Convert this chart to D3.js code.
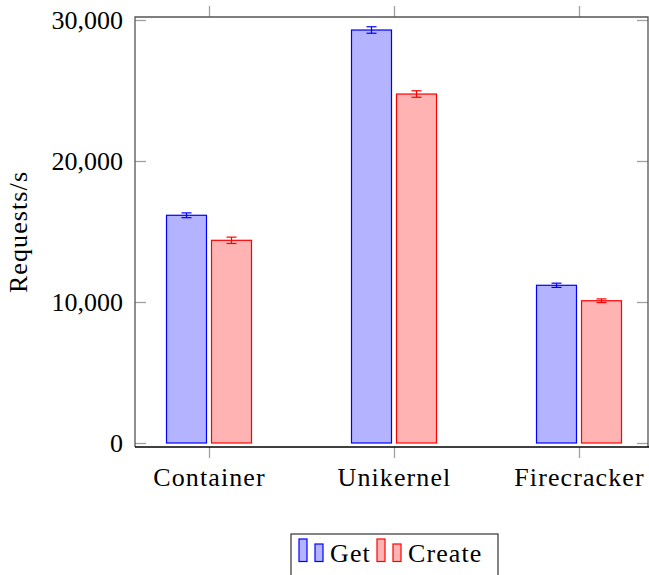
<!DOCTYPE html>
<html>
<head>
<meta charset="utf-8">
<script src="https://cdn.jsdelivr.net/npm/d3@7"></script>
<style>
  body { margin: 0; background: #fff; }
  svg { display: block; font-family: "Liberation Serif", "DejaVu Serif", serif; }
</style>
</head>
<body>
<div id="chart"></div>
<script>

// data
var categories = ["Container", "Unikernel", "Firecracker"];
var seriesNames = ["Get", "Create"];
var getValues = [16150, 29290, 11185];
var getErrors = [170, 230, 150];
var createValues = [14375, 24750, 10090];
var createErrors = [225, 230, 130];
var yTicks = [0, 10000, 20000, 30000];

var strokes = ["#0000ff", "#ff0000"];
var fills = ["#b3b3ff", "#ffb3b3"];

var width = 649, height = 575;
var fontSize = 26;
var serif = '"Liberation Serif", "DejaVu Serif", serif';
var wordSpacing = "1.1px"; // times is narrower than computer modern

var svg = d3.select("#chart").append("svg")
            .attr("width", width)
            .attr("height", height);

// plot box (note: "top" is taken by window.top)
var boxLeft = 135, boxRight = 648, boxTop = 17, boxBottom = 447;

var x = d3.scalePoint().domain(categories).range([209, 579]);
var y = d3.scaleLinear().domain([0, 30000]).range([443, 20]);

var barWidth = 40, barGap = 5;
var offsets = [-(barWidth + barGap) / 2, (barWidth + barGap) / 2];

var series = [
  {name: seriesNames[0], values: getValues, errors: getErrors},
  {name: seriesNames[1], values: createValues, errors: createErrors}
];

function styleTicks(g) {
  g.attr("font-family", serif).attr("font-size", fontSize);
  g.select(".domain").remove();
  g.selectAll(".tick line").attr("stroke", "#a0a0a0").attr("stroke-width", 1.3);
  g.selectAll(".tick text").attr("fill", "#000");
}

// y ticks (inside, mirrored on right)
var yAxisL = d3.axisLeft(y).tickValues(yTicks).tickFormat(d3.format(",")).tickSize(-11).tickPadding(12);
svg.append("g").attr("transform", "translate(" + boxLeft + ",0)").call(yAxisL).call(styleTicks);

var yAxisR = d3.axisRight(y).tickValues(yTicks).tickFormat("").tickSize(-11);
svg.append("g").attr("transform", "translate(" + boxRight + ",0)").call(yAxisR).call(styleTicks);

// x ticks (outside, top and bottom)
var xAxisB = d3.axisBottom(x).tickSize(11);
var gx = svg.append("g").attr("transform", "translate(0," + boxBottom + ")").call(xAxisB).call(styleTicks);
gx.selectAll(".tick text").attr("y", 39).attr("dy", 0).style("letter-spacing", wordSpacing);

var xAxisT = d3.axisTop(x).tickSize(11).tickFormat("");
svg.append("g").attr("transform", "translate(0," + boxTop + ")").call(xAxisT).call(styleTicks);

// bars
var groups = svg.selectAll(".series")
  .data(series)
  .enter()
  .append("g")
  .attr("class", "series");

groups.selectAll("rect")
  .data(function(s, si) {
    return s.values.map(function(v, i) { return {cat: categories[i], v: v, si: si}; });
  })
  .enter()
  .append("rect")
  .attr("x", function(d) { return x(d.cat) + offsets[d.si] - barWidth / 2; })
  .attr("y", function(d) { return y(d.v); })
  .attr("width", barWidth)
  .attr("height", function(d) { return y(0) - y(d.v); })
  .attr("fill", function(d) { return fills[d.si]; })
  .attr("stroke", function(d) { return strokes[d.si]; })
  .attr("stroke-width", 1.2);

// error bars
var errs = groups.selectAll(".err")
  .data(function(s, si) {
    return s.values.map(function(v, i) { return {cat: categories[i], v: v, e: s.errors[i], si: si}; });
  })
  .enter()
  .append("g")
  .attr("class", "err")
  .attr("stroke", function(d) { return strokes[d.si]; })
  .attr("stroke-width", 1.2);

errs.append("line")
  .attr("x1", function(d) { return x(d.cat) + offsets[d.si]; })
  .attr("x2", function(d) { return x(d.cat) + offsets[d.si]; })
  .attr("y1", function(d) { return y(d.v - d.e); })
  .attr("y2", function(d) { return y(d.v + d.e); });

[-1, 1].forEach(function(sign) {
  errs.append("line")
    .attr("x1", function(d) { return x(d.cat) + offsets[d.si] - 5; })
    .attr("x2", function(d) { return x(d.cat) + offsets[d.si] + 5; })
    .attr("y1", function(d) { return y(d.v + sign * d.e); })
    .attr("y2", function(d) { return y(d.v + sign * d.e); });
});

// frame
svg.append("path")
  .attr("d", "M" + boxLeft + "," + boxBottom + "V" + boxTop + "H" + boxRight + "V" + boxBottom)
  .attr("fill", "none")
  .attr("stroke", "#555")
  .attr("stroke-width", 1.3);
svg.append("line")
  .attr("x1", boxLeft).attr("x2", width)
  .attr("y1", boxBottom).attr("y2", boxBottom)
  .attr("stroke", "#000")
  .attr("stroke-width", 1.3);

// y label
svg.append("text")
  .attr("transform", "translate(27," + ((boxTop + boxBottom) / 2) + ") rotate(-90)")
  .attr("text-anchor", "middle")
  .style("font-size", fontSize + "px")
  .style("letter-spacing", wordSpacing)
  .text("Requests/s");

// legend
var legend = svg.append("g");
legend.append("rect")
  .attr("x", 291).attr("y", 534)
  .attr("width", 207).attr("height", 50)
  .attr("fill", "#fff")
  .attr("stroke", "#333")
  .attr("stroke-width", 1.2);

var legendX = [299, 377];
var entries = legend.selectAll(".entry")
  .data(series)
  .enter()
  .append("g")
  .attr("class", "entry")
  .attr("transform", function(d, i) { return "translate(" + legendX[i] + ",0)"; });

entries.append("rect")
  .attr("x", 0).attr("y", 539).attr("width", 8).attr("height", 22.5)
  .attr("fill", function(d, i) { return fills[i]; })
  .attr("stroke", function(d, i) { return strokes[i]; })
  .attr("stroke-width", 1.2);
entries.append("rect")
  .attr("x", 16).attr("y", 544).attr("width", 8).attr("height", 17.5)
  .attr("fill", function(d, i) { return fills[i]; })
  .attr("stroke", function(d, i) { return strokes[i]; })
  .attr("stroke-width", 1.2);
entries.append("text")
  .attr("x", 31).attr("y", 562)
  .style("font-size", fontSize + "px")
  .style("letter-spacing", wordSpacing)
  .text(function(d) { return d.name; });

</script>
</body>
</html>
